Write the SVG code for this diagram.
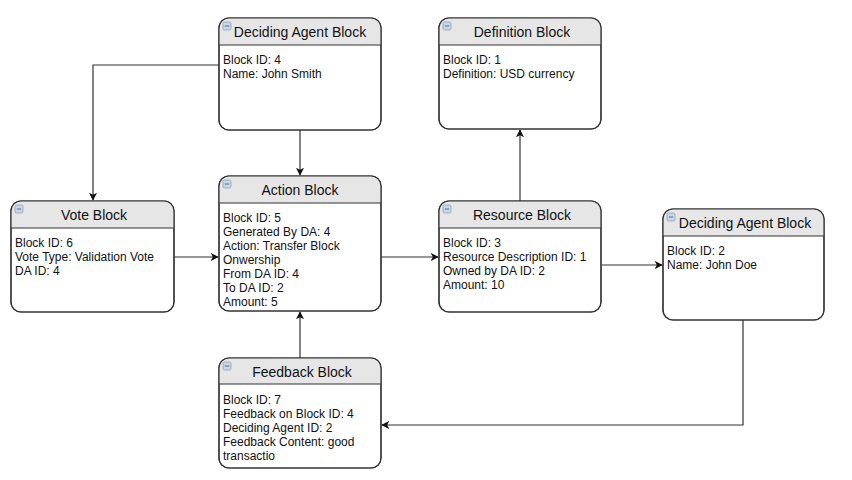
<svg xmlns="http://www.w3.org/2000/svg" width="852" height="480" viewBox="0 0 852 480">
<style>
.box{fill:#ffffff;stroke:#333333;stroke-width:1.2}
.hdr{fill:#e6e6e6;stroke:none}
.sep{stroke:#333333;stroke-width:1}
.title{font-family:"Liberation Sans",Arial,sans-serif;font-size:14px;fill:#111;text-anchor:middle}
.body{font-family:"Liberation Sans",Arial,sans-serif;font-size:12px;fill:#111}
.icon{fill:#c9d6e6;stroke:#8ea3bd;stroke-width:0.8}
.iconm{stroke:#5a6f8a;stroke-width:1}
.edge{fill:none;stroke:#333333;stroke-width:1.2}
</style>
<defs>
<marker id="arr" viewBox="0 0 10 10" refX="9" refY="5" markerWidth="8" markerHeight="8" markerUnits="userSpaceOnUse" orient="auto">
<path d="M0,0 L10,5 L0,10 L2.5,5 Z" fill="#111"/>
</marker>
<clipPath id="cDA1"><rect x="219" y="18" width="162" height="112" rx="10"/></clipPath>
<clipPath id="cDef"><rect x="439" y="18" width="162" height="111" rx="10"/></clipPath>
<clipPath id="cVote"><rect x="11" y="201" width="163" height="111" rx="10"/></clipPath>
<clipPath id="cAct"><rect x="219" y="176" width="162" height="135" rx="10"/></clipPath>
<clipPath id="cRes"><rect x="439" y="201" width="162" height="111" rx="10"/></clipPath>
<clipPath id="cDA2"><rect x="663" y="209" width="161" height="111" rx="10"/></clipPath>
<clipPath id="cFb"><rect x="219" y="358" width="162" height="110" rx="10"/></clipPath>
</defs>

<g id="connectors">
<path class="edge" d="M300,130 L300,175" marker-end="url(#arr)"/>
<path class="edge" d="M219,65 L93,65 L93,200" marker-end="url(#arr)"/>
<path class="edge" d="M174,257 L218,257" marker-end="url(#arr)"/>
<path class="edge" d="M381,257 L438,257" marker-end="url(#arr)"/>
<path class="edge" d="M520,201 L520,130" marker-end="url(#arr)"/>
<path class="edge" d="M601,265 L662,265" marker-end="url(#arr)"/>
<path class="edge" d="M743,320 L743,425 L382,425" marker-end="url(#arr)"/>
<path class="edge" d="M300,358 L300,312" marker-end="url(#arr)"/>
</g>

<g id="deciding-agent-4">
<rect class="box" x="219" y="18" width="162" height="112" rx="10"/>
<rect class="hdr" x="219" y="18" width="162" height="27" clip-path="url(#cDA1)"/>
<rect x="219" y="18" width="162" height="112" rx="10" fill="none" stroke="#333" stroke-width="1.2"/>
<line class="sep" x1="219" y1="45" x2="381" y2="45"/>
<rect class="icon" x="223" y="22" width="8" height="8" rx="1.5"/>
<line class="iconm" x1="224.8" y1="26" x2="229.2" y2="26"/>
<text class="title" x="300" y="37">Deciding Agent Block</text>
<text class="body" x="223" y="64">Block ID: 4</text>
<text class="body" x="223" y="78">Name: John Smith</text>
</g>

<g id="definition-block">
<rect class="box" x="439" y="18" width="162" height="111" rx="10"/>
<rect class="hdr" x="439" y="18" width="162" height="27" clip-path="url(#cDef)"/>
<rect x="439" y="18" width="162" height="111" rx="10" fill="none" stroke="#333" stroke-width="1.2"/>
<line class="sep" x1="439" y1="45" x2="601" y2="45"/>
<rect class="icon" x="443" y="22" width="8" height="8" rx="1.5"/>
<line class="iconm" x1="444.8" y1="26" x2="449.2" y2="26"/>
<text class="title" x="522" y="37">Definition Block</text>
<text class="body" x="443" y="64">Block ID: 1</text>
<text class="body" x="443" y="78">Definition: USD currency</text>
</g>

<g id="vote-block">
<rect class="box" x="11" y="201" width="163" height="111" rx="10"/>
<rect class="hdr" x="11" y="201" width="163" height="27" clip-path="url(#cVote)"/>
<rect x="11" y="201" width="163" height="111" rx="10" fill="none" stroke="#333" stroke-width="1.2"/>
<line class="sep" x1="11" y1="228" x2="174" y2="228"/>
<rect class="icon" x="15" y="205" width="8" height="8" rx="1.5"/>
<line class="iconm" x1="16.8" y1="209" x2="21.2" y2="209"/>
<text class="title" x="94" y="220">Vote Block</text>
<text class="body" x="15" y="247">Block ID: 6</text>
<text class="body" x="15" y="261">Vote Type: Validation Vote</text>
<text class="body" x="15" y="275">DA ID: 4</text>
</g>

<g id="action-block">
<rect class="box" x="219" y="176" width="162" height="135" rx="10"/>
<rect class="hdr" x="219" y="176" width="162" height="27" clip-path="url(#cAct)"/>
<rect x="219" y="176" width="162" height="135" rx="10" fill="none" stroke="#333" stroke-width="1.2"/>
<line class="sep" x1="219" y1="203" x2="381" y2="203"/>
<rect class="icon" x="223" y="180" width="8" height="8" rx="1.5"/>
<line class="iconm" x1="224.8" y1="184" x2="229.2" y2="184"/>
<text class="title" x="300" y="195">Action Block</text>
<text class="body" x="223" y="222">Block ID: 5</text>
<text class="body" x="223" y="236">Generated By DA: 4</text>
<text class="body" x="223" y="250">Action: Transfer Block</text>
<text class="body" x="223" y="264">Onwership</text>
<text class="body" x="223" y="278">From DA ID: 4</text>
<text class="body" x="223" y="292">To DA ID: 2</text>
<text class="body" x="223" y="306">Amount: 5</text>
</g>

<g id="resource-block">
<rect class="box" x="439" y="201" width="162" height="111" rx="10"/>
<rect class="hdr" x="439" y="201" width="162" height="27" clip-path="url(#cRes)"/>
<rect x="439" y="201" width="162" height="111" rx="10" fill="none" stroke="#333" stroke-width="1.2"/>
<line class="sep" x1="439" y1="228" x2="601" y2="228"/>
<rect class="icon" x="443" y="205" width="8" height="8" rx="1.5"/>
<line class="iconm" x1="444.8" y1="209" x2="449.2" y2="209"/>
<text class="title" x="522" y="220">Resource Block</text>
<text class="body" x="443" y="247">Block ID: 3</text>
<text class="body" x="443" y="261">Resource Description ID: 1</text>
<text class="body" x="443" y="275">Owned by DA ID: 2</text>
<text class="body" x="443" y="289">Amount: 10</text>
</g>

<g id="deciding-agent-2">
<rect class="box" x="663" y="209" width="161" height="111" rx="10"/>
<rect class="hdr" x="663" y="209" width="161" height="27" clip-path="url(#cDA2)"/>
<rect x="663" y="209" width="161" height="111" rx="10" fill="none" stroke="#333" stroke-width="1.2"/>
<line class="sep" x1="663" y1="236" x2="824" y2="236"/>
<rect class="icon" x="667" y="213" width="8" height="8" rx="1.5"/>
<line class="iconm" x1="668.8" y1="217" x2="673.2" y2="217"/>
<text class="title" x="745" y="228">Deciding Agent Block</text>
<text class="body" x="667" y="255">Block ID: 2</text>
<text class="body" x="667" y="269">Name: John Doe</text>
</g>

<g id="feedback-block">
<rect class="box" x="219" y="358" width="162" height="110" rx="10"/>
<rect class="hdr" x="219" y="358" width="162" height="26" clip-path="url(#cFb)"/>
<rect x="219" y="358" width="162" height="110" rx="10" fill="none" stroke="#333" stroke-width="1.2"/>
<line class="sep" x1="219" y1="384" x2="381" y2="384"/>
<rect class="icon" x="223" y="362" width="8" height="8" rx="1.5"/>
<line class="iconm" x1="224.8" y1="366" x2="229.2" y2="366"/>
<text class="title" x="302" y="377">Feedback Block</text>
<text class="body" x="223" y="404">Block ID: 7</text>
<text class="body" x="223" y="418">Feedback on Block ID: 4</text>
<text class="body" x="223" y="432">Deciding Agent ID: 2</text>
<text class="body" x="223" y="446">Feedback Content: good</text>
<text class="body" x="223" y="460">transactio</text>
</g>
</svg>
